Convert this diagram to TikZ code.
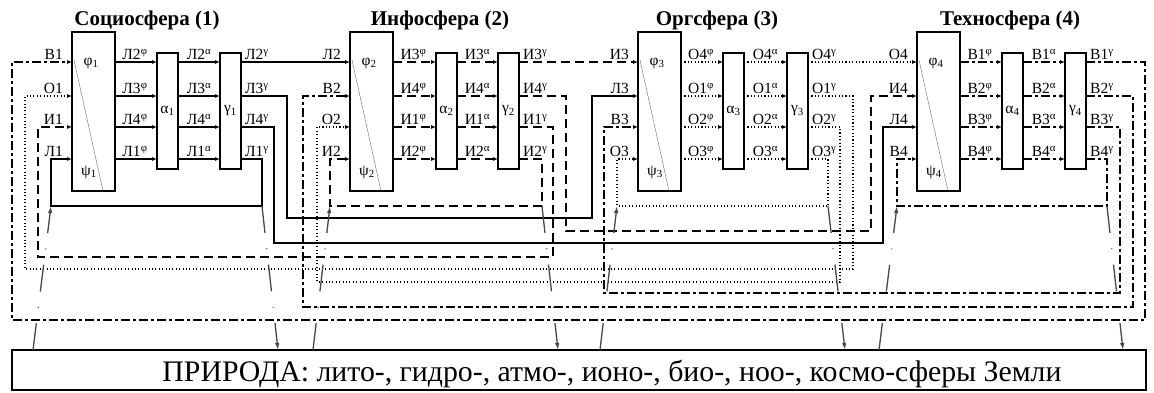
\documentclass[tikz,border=0pt]{standalone}
\usepackage{fontspec}
\setmainfont{Liberation Serif}
\usetikzlibrary{arrows.meta,calc}
\begin{document}
\begin{tikzpicture}[x=1pt,y=-1pt,
  bx/.style={draw, line width=1.3pt, inner sep=0pt, outer sep=0pt, anchor=north west},
  fl/.style={line width=1.25pt},
  Lst/.style={fl},
  Ist/.style={fl, dash pattern=on 9pt off 5pt},
  Ost/.style={fl, dash pattern=on 1.1pt off 2.3pt},
  Bst/.style={fl, dash pattern=on 9pt off 3pt on 3pt off 3pt},
  tip/.style={-{Latex[length=5pt,width=4pt]}},
  lab/.style={inner sep=0pt, font=\fontsize{15.5}{15.5}\selectfont},
  ttl/.style={inner sep=0pt, font=\fontsize{21}{21}\selectfont\bfseries},
  natarr/.style={draw=black!72, line width=1.3pt, dash pattern=on 27pt off 15.5pt on 0.9pt off 15.5pt, -{Latex[length=7pt,width=4.5pt]}},
]
\useasboundingbox (0,0) rectangle (1154,392);
\coordinate (r1) at (0,62);
\coordinate (r2) at (0,96);
\coordinate (r3) at (0,127);
\coordinate (r4) at (0,159);

% titles
\node[ttl] (t1) at (147,20) {Социосфера (1)};
\node[ttl] (t2) at (440,20) {Инфосфера (2)};
\node[ttl] (t3) at (717,20) {Оргсфера (3)};
\node[ttl] (t4) at (1010,20) {Техносфера (4)};

% boxes
\foreach \n/\px/\ax/\gx in {1/72/157/220, 2/350/436/498, 3/638/723/787, 4/917/1002/1065} {
  \node[bx, minimum width=43pt, minimum height=159pt] (p\n) at (\px,32) {};
  \node[bx, minimum width=21pt, minimum height=116pt] (a\n) at (\ax,53) {};
  \node[bx, minimum width=21pt, minimum height=116pt] (g\n) at (\gx,53) {};
  \draw[gray, line width=0.5pt] ($(p\n.north west)+(2,28)$) -- ($(p\n.north west)+(31,159)$);
  \node[lab] (pf\n) at ($(p\n.north west)+(19,31)$) {φ\textsubscript{\n}};
  \node[lab] (ps\n) at ($(p\n.north west)+(17,140)$) {ψ\textsubscript{\n}};
  \node[lab] (al\n) at (a\n.center) {α\textsubscript{\n}};
  \node[lab] (ga\n) at (g\n.center) {γ\textsubscript{\n}};
}

% internal arrows and output labels
\foreach \n/\st/\A/\B/\C/\D in {1/Lst/Л2/Л3/Л4/Л1, 2/Ist/И3/И4/И1/И2, 3/Ost/О4/О1/О2/О3, 4/Bst/В1/В2/В3/В4} {
  \foreach \r/\t in {1/\A, 2/\B, 3/\C, 4/\D} {
    \draw[\st,tip] (p\n.east |- r\r) -- (a\n.west |- r\r);
    \draw[\st,tip] (a\n.east |- r\r) -- (g\n.west |- r\r);
    \node[lab, anchor=base] at ($(p\n.east |- r\r)!0.5!(a\n.west |- r\r) + (-1,-2.5)$) {\t\textsuperscript{φ}};
    \node[lab, anchor=base] at ($(a\n.east |- r\r)!0.5!(g\n.west |- r\r) + (0,-2.5)$) {\t\textsuperscript{α}};
    \node[lab, anchor=base west] at ($(g\n.east |- r\r) + (4,-2.5)$) {\t\textsuperscript{γ}};
  }
}

% input labels
\foreach \n/\A/\B/\C/\D in {1/В1/О1/И1/Л1, 2/Л2/В2/О2/И2, 3/И3/Л3/В3/О3, 4/О4/И4/Л4/В4} {
  \foreach \r/\t in {1/\A, 2/\B, 3/\C, 4/\D} {
    \node[lab, anchor=base east] at ($(p\n.west |- r\r) + (-9,-2.5)$) {\t};
  }
}

% Социосфера outputs (solid)
\draw[Lst,tip] (g1.east |- r1) -- (p2.west |- r1);
\draw[Lst,tip] (g1.east |- r2) -| (287,218) -| (592,96) -- (p3.west |- r2);
\draw[Lst,tip] (g1.east |- r3) -| (274,243) -| (883,127) -- (p4.west |- r3);
\draw[Lst,tip] (g1.east |- r4) -| (262,206) -| (51,159) -- (p1.west |- r4);
% Инфосфера outputs (dashed)
\draw[Ist,tip] (g2.east |- r1) -- (p3.west |- r1);
\draw[Ist,tip] (g2.east |- r2) -| (566,231) -| (871,96) -- (p4.west |- r2);
\draw[Ist,tip] (g2.east |- r3) -| (553,257) -| (38,127) -- (p1.west |- r3);
\draw[Ist,tip] (g2.east |- r4) -| (542,206) -| (330,159) -- (p2.west |- r4);
% Оргсфера outputs (dotted)
\draw[Ost,tip] (g3.east |- r1) -- (p4.west |- r1);
\draw[Ost,tip] (g3.east |- r2) -| (853,269) -| (25,96) -- (p1.west |- r2);
\draw[Ost,tip] (g3.east |- r3) -| (840,282) -| (317,127) -- (p2.west |- r3);
\draw[Ost,tip] (g3.east |- r4) -| (828,206) -| (617,159) -- (p3.west |- r4);
% Техносфера outputs (dash-dot)
\draw[Bst,tip] (g4.east |- r1) -| (1145,320) -| (12,62) -- (p1.west |- r1);
\draw[Bst,tip] (g4.east |- r2) -| (1133,307) -| (303,96) -- (p2.west |- r2);
\draw[Bst,tip] (g4.east |- r3) -| (1120,293) -| (604,127) -- (p3.west |- r3);
\draw[Bst,tip] (g4.east |- r4) -| (1107,206) -| (897,159) -- (p4.west |- r4);

% nature
\node[bx, minimum width=1134pt, minimum height=40pt] (nat) at (12,350) {};
\node[inner sep=0pt, anchor=base, font=\fontsize{29.8}{29.8}\selectfont] (natt) at (612,381) {ПРИРОДА: лито-, гидро-, атмо-, ионо-, био-, ноо-, космо-сферы Земли};

\coordinate (u1) at (51,206);   \coordinate (d1) at (262,206);
\coordinate (u2) at (330,206);  \coordinate (d2) at (542,206);
\coordinate (u3) at (617,206);  \coordinate (d3) at (828,206);
\coordinate (u4) at (897,206);  \coordinate (d4) at (1107,206);
\draw[natarr] (nat.north -| 33,0) -- (u1);
\draw[natarr] (nat.north -| 313,0) -- (u2);
\draw[natarr] (nat.north -| 600,0) -- (u3);
\draw[natarr] (nat.north -| 879,0) -- (u4);
\draw[natarr] (d1) -- (nat.north -| 278,0);
\draw[natarr] (d2) -- (nat.north -| 558,0);
\draw[natarr] (d3) -- (nat.north -| 845,0);
\draw[natarr] (d4) -- (nat.north -| 1123,0);
\end{tikzpicture}
\end{document}
